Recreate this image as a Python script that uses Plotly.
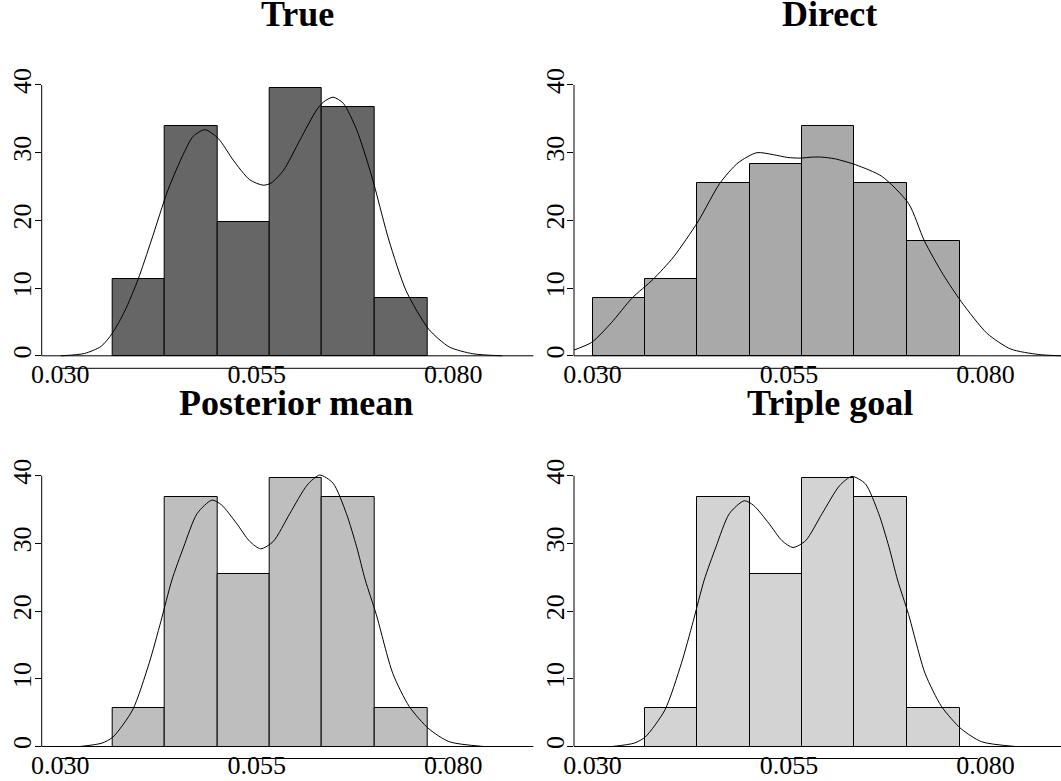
import numpy as np
import plotly.graph_objects as go

# ---------------- data ----------------
titles = ["True", "Direct", "Posterior mean", "Triple goal"]

edges_true = [0.0367, 0.0433, 0.0500, 0.0567, 0.0633, 0.0700, 0.0767]
dens_true = [11.3, 34.0, 19.8, 39.6, 36.8, 8.5]

edges_direct = [0.0300, 0.0367, 0.0433, 0.0500, 0.0567, 0.0633, 0.0700, 0.0767]
dens_direct = [8.5, 11.3, 25.5, 28.3, 34.0, 25.5, 17.0]

edges_pm = [0.0367, 0.0433, 0.0500, 0.0567, 0.0633, 0.0700, 0.0767]
dens_pm = [5.7, 36.8, 25.5, 39.6, 36.8, 5.7]

edges_tg = [0.0367, 0.0433, 0.0500, 0.0567, 0.0633, 0.0700, 0.0767]
dens_tg = [5.7, 36.8, 25.5, 39.6, 36.8, 5.7]

true_x = [0.0301, 0.0331, 0.0352, 0.0366, 0.0382, 0.0399, 0.0416, 0.0437, 0.0457,
          0.0469, 0.0484, 0.0501, 0.0520, 0.0541, 0.0558, 0.0568, 0.0584, 0.0605,
          0.0626, 0.0635, 0.0647, 0.0660, 0.0677, 0.0694, 0.0701, 0.0718, 0.0740,
          0.0769, 0.0795, 0.0825, 0.0862]
true_y = [0.0, 0.35, 1.4, 3.3, 6.6, 11.3, 17.1, 24.5, 29.9, 32.4, 33.4, 32.1, 28.9,
          26.0, 25.2, 25.5, 27.4, 31.9, 36.3, 37.5, 38.2, 37.3, 33.4, 27.4, 24.5,
          17.1, 9.6, 3.9, 1.3, 0.3, 0.0]

dir_x = [0.0275, 0.0299, 0.0324, 0.0350, 0.0377, 0.0403, 0.0434, 0.0462, 0.0485,
         0.0509, 0.0530, 0.0548, 0.0564, 0.0580, 0.0591, 0.0608, 0.0635, 0.0668,
         0.0702, 0.0722, 0.0746, 0.0769, 0.0802, 0.0832, 0.0867, 0.0896]
dir_y = [0.8, 2.0, 4.9, 8.5, 11.3, 14.6, 19.8, 25.5, 28.5, 30.0, 29.7, 29.3, 29.2,
         29.35, 29.35, 29.1, 28.2, 26.5, 22.5, 17.0, 12.0, 8.0, 3.3, 1.0, 0.2, 0.0]

pm_x = [0.0325, 0.0353, 0.0367, 0.0392, 0.0413, 0.0428, 0.0442, 0.0457, 0.0474,
        0.0493, 0.0505, 0.0524, 0.0541, 0.0555, 0.0571, 0.0592, 0.0614, 0.0630,
        0.0647, 0.0664, 0.0677, 0.0688, 0.0702, 0.0723, 0.0744, 0.0769, 0.0795,
        0.0839]
pm_y = [0.0, 0.5, 1.4, 5.4, 12.3, 18.5, 24.6, 29.5, 34.4, 36.4, 35.7, 33.0, 30.3,
        29.2, 30.3, 34.4, 38.6, 40.1, 38.9, 34.4, 29.5, 24.6, 19.5, 10.8, 5.9, 2.6,
        0.7, 0.0]

tg_x = [0.0325, 0.0353, 0.0367, 0.0392, 0.0413, 0.0428, 0.0442, 0.0457, 0.0474,
        0.0493, 0.0505, 0.0524, 0.0541, 0.0555, 0.0571, 0.0592, 0.0614, 0.0630,
        0.0647, 0.0664, 0.0677, 0.0688, 0.0702, 0.0723, 0.0744, 0.0769, 0.0795,
        0.0838]
tg_y = [0.0, 0.5, 1.4, 5.4, 12.3, 18.5, 24.6, 29.5, 34.4, 36.3, 35.6, 33.0, 30.4,
        29.4, 30.4, 34.4, 38.5, 39.9, 38.8, 34.4, 29.5, 24.6, 19.5, 10.8, 5.9, 2.6,
        0.7, 0.0]

fills = ["#666666", "#A9A9A9", "#BEBEBE", "#D3D3D3"]

x_ticks = [0.030, 0.055, 0.080]
x_ticktext = ["0.030", "0.055", "0.080"]
y_ticks = [0, 10, 20, 30, 40]

panels = [
    (edges_true, dens_true, true_x, true_y),
    (edges_direct, dens_direct, dir_x, dir_y),
    (edges_pm, dens_pm, pm_x, pm_y),
    (edges_tg, dens_tg, tg_x, tg_y),
]

# ---------------- layout geometry (pixels) ----------------
W, H = 1061, 781
FONT = "Liberation Serif"

x_dom_px = [(41.7, 533.3), (574, 1061), (41.7, 533.3), (574, 1061)]
x_rng = [(0.027634, 0.090178), (0.027634, 0.089593),
         (0.027634, 0.090178), (0.027634, 0.089593)]
y_dom_px = [(30, 368.3), (30, 368.3), (420, 758.5), (420, 758.5)]
y_rng = [(-1.846, 48.12), (-1.846, 48.12), (-1.773, 48.23), (-1.773, 48.23)]
title_px = [(297, 14), (829.5, 14), (296, 403), (829.5, 403)]

fig = go.Figure()
layout = dict(
    width=W, height=H, margin=dict(l=0, r=0, t=0, b=0, autoexpand=False),
    paper_bgcolor="white", plot_bgcolor="white", showlegend=False,
    font=dict(family=FONT, color="black"),
)
shapes = []
annotations = []

for i, (edges, dens, cx, cy) in enumerate(panels):
    k = "" if i == 0 else str(i + 1)
    xa, ya = "x" + k, "y" + k
    e = np.array(edges)
    centers = (e[:-1] + e[1:]) / 2
    widths = np.diff(e)
    fig.add_trace(go.Bar(
        x=centers, y=dens, width=widths, base=0,
        marker=dict(color=fills[i], line=dict(color="black", width=1)),
        xaxis=xa, yaxis=ya, hoverinfo="skip",
    ))
    fig.add_trace(go.Scatter(
        x=cx, y=cy, mode="lines",
        line=dict(color="black", width=1, shape="spline", smoothing=0.7),
        xaxis=xa, yaxis=ya, hoverinfo="skip",
    ))
    x0, x1 = x_dom_px[i]
    yt, yb = y_dom_px[i]
    layout["xaxis" + k] = dict(
        domain=[x0 / W, x1 / W], range=list(x_rng[i]), anchor=ya,
        automargin=False, showgrid=False, zeroline=False, showline=False,
        tickmode="array", tickvals=x_ticks, ticktext=x_ticktext,
        ticks="", tickfont=dict(family=FONT, size=26, color="black"),
        ticklabelstandoff=-12,
    )
    layout["yaxis" + k] = dict(
        domain=[1 - yb / H, 1 - yt / H], range=list(y_rng[i]), anchor=xa,
        automargin=False, showgrid=False, zeroline=False, showline=False,
        tickmode="array", tickvals=y_ticks, ticks="outside", ticklen=6,
        tickcolor="black", tickwidth=1, tickangle=-90,
        tickfont=dict(family=FONT, size=26, color="black"),
        ticklabelstandoff=-7,
    )
    # y axis line from 0 to 40
    shapes.append(dict(type="line", xref=xa + " domain", yref=ya, x0=0, x1=0,
                       y0=0, y1=40, line=dict(color="black", width=1)))
    # baseline at y = 0 across the plot region
    shapes.append(dict(type="line", xref=xa + " domain", yref=ya, x0=0, x1=1,
                       y0=0, y1=0, line=dict(color="black", width=1)))
    # x axis line at the bottom of the plot region
    shapes.append(dict(type="line", xref=xa, yref=ya + " domain", x0=0.030, x1=0.0790,
                       y0=0, y1=0, line=dict(color="black", width=1)))
    tx, ty = title_px[i]
    annotations.append(dict(
        text="<b>" + titles[i] + "</b>", xref="paper", yref="paper",
        x=tx / W, y=1 - ty / H, xanchor="center", yanchor="middle",
        showarrow=False, font=dict(family=FONT, size=36, color="black"),
    ))

layout["shapes"] = shapes
layout["annotations"] = annotations
layout["bargap"] = 0
fig.update_layout(**layout)
fig.write_html("out.html", config={"displayModeBar": False},
               post_script="document.body.style.margin='0px';")
